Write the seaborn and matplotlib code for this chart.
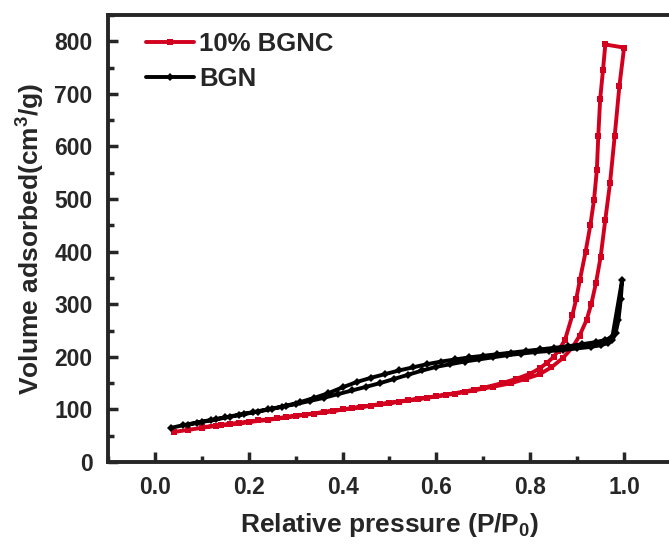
import matplotlib
matplotlib.use("Agg")
import matplotlib.pyplot as plt
import seaborn as sns
import pandas as pd
import numpy as np
from matplotlib.ticker import MultipleLocator

# 10% BGNC: adsorption branch then desorption branch
bgnc_ads_x = [0.04, 0.07, 0.10, 0.13, 0.16, 0.20, 0.24, 0.28, 0.32, 0.36, 0.40, 0.44, 0.48,
              0.52, 0.56, 0.60, 0.64, 0.68, 0.72, 0.76, 0.79, 0.82, 0.845, 0.87, 0.89, 0.905,
              0.92, 0.93, 0.94, 0.95, 0.96, 0.97, 0.98, 0.99, 1.0]
bgnc_ads_y = [57, 61, 65, 69, 72, 76, 80, 85, 90, 95, 100, 105, 110,
              115, 120, 125, 130, 136, 143, 150, 158, 167, 180, 198, 218, 240,
              270, 300, 340, 390, 461, 530, 620, 715, 788]
bgnc_des_x = [0.96, 0.955, 0.949, 0.945, 0.942, 0.936, 0.928, 0.918, 0.906, 0.898, 0.89,
              0.874, 0.86, 0.85, 0.835, 0.82, 0.80, 0.77, 0.74, 0.70, 0.66, 0.62, 0.58,
              0.54, 0.50, 0.46, 0.42, 0.38, 0.34, 0.30, 0.26, 0.22, 0.18, 0.14, 0.10]
bgnc_des_y = [794, 745, 690, 620, 556, 499, 450, 400, 347, 310, 280,
              232, 212, 200, 188, 178, 168, 158, 150, 141, 134, 128, 122,
              117, 112, 107, 102, 97, 92, 88, 83, 79, 74, 70, 66]

# BGN: adsorption branch then desorption branch
bgn_ads_x = [0.035, 0.06, 0.09, 0.12, 0.15, 0.18, 0.21, 0.24, 0.27, 0.30, 0.33, 0.36, 0.39,
             0.42, 0.45, 0.48, 0.51, 0.54, 0.57, 0.60, 0.63, 0.66, 0.69, 0.72, 0.75, 0.78,
             0.81, 0.84, 0.87, 0.90, 0.93, 0.95, 0.965, 0.975, 0.982, 0.988, 0.993, 0.996]
bgn_ads_y = [65, 70, 75, 80, 85, 90, 95, 100, 105, 110, 116, 122, 129,
             136, 143, 150, 158, 166, 174, 181, 186, 191, 195, 199, 203, 206,
             209, 211, 213, 216, 219, 222, 226, 232, 245, 270, 310, 347]
bgn_des_x = [0.975, 0.96, 0.94, 0.91, 0.88, 0.85, 0.82, 0.79, 0.76, 0.73, 0.70, 0.67,
             0.64, 0.61, 0.58, 0.55, 0.52, 0.49, 0.46, 0.43, 0.40, 0.37, 0.34, 0.31,
             0.28, 0.25, 0.22, 0.19, 0.16, 0.13, 0.10, 0.07]
bgn_des_y = [238, 232, 228, 224, 220, 217, 214, 211, 208, 205, 202, 199,
             195, 191, 186, 180, 174, 167, 160, 152, 142, 131, 122, 114,
             107, 101, 96, 91, 86, 81, 76, 71]

sns.set_style("ticks")
plt.rcParams['font.family'] = ['Liberation Sans', 'DejaVu Sans']
plt.rcParams['font.weight'] = 'bold'
plt.rcParams['mathtext.default'] = 'regular'

fig = plt.figure(figsize=(6.69, 5.5), dpi=100)
ax = fig.add_axes([0.1614, 0.16, 0.8416, 0.8127])

bgnc = pd.DataFrame({'p': bgnc_ads_x + bgnc_des_x, 'v': bgnc_ads_y + bgnc_des_y})
bgn = pd.DataFrame({'p': bgn_ads_x + bgn_des_x, 'v': bgn_ads_y + bgn_des_y})

sns.lineplot(data=bgnc, x='p', y='v', sort=False, estimator=None, ax=ax,
             color='#d2001e', lw=2.8, marker='s', markersize=5, markeredgewidth=0,
             label='10% BGNC')
sns.lineplot(data=bgn, x='p', y='v', sort=False, estimator=None, ax=ax,
             color='black', lw=2.8, marker='D', markersize=4.5, markeredgewidth=0,
             label='BGN')

ax.set_xlim(-0.1, 1.1)
ax.set_ylim(0, 850)
ax.xaxis.set_minor_locator(MultipleLocator(0.1))
ax.yaxis.set_major_locator(MultipleLocator(100))
ax.yaxis.set_minor_locator(MultipleLocator(50))
ax.set_xticks(np.arange(0, 1.01, 0.2))
ax.set_xticklabels(['0.0', '0.2', '0.4', '0.6', '0.8', '1.0'])

for s in ax.spines.values():
    s.set_linewidth(2.8)
ax.tick_params(which='both', direction='in', width=2.5, labelsize=16.5, top=False, right=False)
ax.tick_params(which='major', length=7)
ax.tick_params(which='minor', length=4)
ax.tick_params(axis='y', which='major', pad=11)
ax.tick_params(axis='x', which='major', pad=10)
for lab in ax.get_xticklabels() + ax.get_yticklabels():
    lab.set_fontweight('bold')

ax.set_xlabel('Relative pressure (P/P$_0$)', fontsize=19, fontweight='bold', labelpad=9)
ax.set_ylabel('Volume adsorbed(cm$^3$/g)', fontsize=19, fontweight='bold', labelpad=5)

leg = ax.legend(loc='upper left', bbox_to_anchor=(0.038, 1.0), frameon=False,
                handlelength=1.87, handletextpad=0.2, labelspacing=0.45,
                borderaxespad=0.3, borderpad=0.35, prop={'weight': 'bold', 'size': 18.5})

fig.savefig('out.png', dpi=100)
